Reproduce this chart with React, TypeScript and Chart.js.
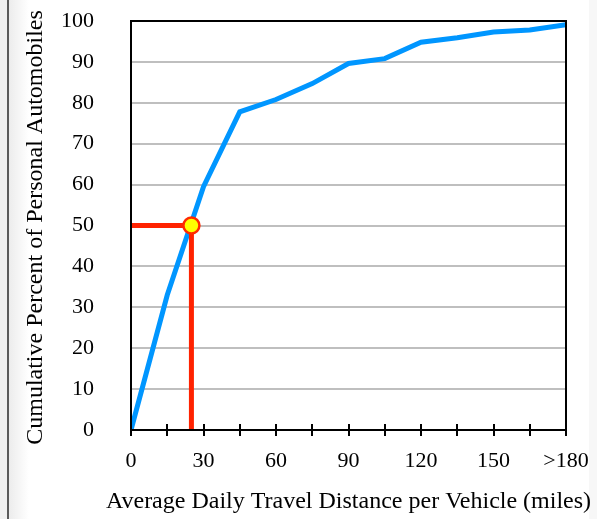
import React, { useEffect, useRef } from "react";
import { Chart, registerables } from "chart.js";

Chart.register(...registerables);

const distanceMiles = [0, 15, 30, 45, 60, 75, 90, 105, 120, 135, 150, 165, 180];
const cumulativePercent = [0, 33, 59.5, 77.8, 80.8, 84.7, 89.6, 90.8, 94.8, 95.9, 97.3, 97.8, 99.1];
const medianDistance = 25;
const medianPercent = 50;
const xTickLabels: Record<number, string> = { 0: "0", 30: "30", 60: "60", 90: "90", 120: "120", 150: "150", 180: ">180" };
const xTitle = "Average Daily Travel Distance per Vehicle (miles)";
const yTitle = "Cumulative Percent of Personal Automobiles";

const FONT = "'Liberation Serif', 'Times New Roman', serif";

const frameTicksTitles = {
  id: "frameTicksTitles",
  afterDatasetsDraw(chart: any) {
    const { ctx, chartArea, scales } = chart;
    ctx.save();
    ctx.strokeStyle = "#000";
    ctx.lineWidth = 2;
    ctx.strokeRect(chartArea.left, chartArea.top, chartArea.right - chartArea.left, chartArea.bottom - chartArea.top);
    const x = scales.x;
    for (let v = 0; v <= 180; v += 15) {
      const px = Math.round(x.getPixelForValue(v));
      ctx.beginPath();
      ctx.moveTo(px, chartArea.bottom - 6);
      ctx.lineTo(px, chartArea.bottom + 6);
      ctx.stroke();
    }
    ctx.restore();
  },
  afterDraw(chart: any) {
    const { ctx, chartArea } = chart;
    ctx.save();
    ctx.fillStyle = "#000";
    ctx.font = `24px ${FONT}`;
    ctx.textAlign = "center";
    ctx.textBaseline = "alphabetic";
    ctx.fillText(xTitle, (chartArea.left + chartArea.right) / 2, 508);
    ctx.translate(41.5, (chartArea.top + chartArea.bottom) / 2 + 2);
    ctx.rotate(-Math.PI / 2);
    ctx.fillText(yTitle, 0, 0);
    ctx.restore();
  },
};

export default function App() {
  const ref = useRef<HTMLCanvasElement | null>(null);
  useEffect(() => {
    if (!ref.current) return;
    const blue = distanceMiles.map((d, i) => ({ x: d, y: cumulativePercent[i] }));
    const redPath = [
      { x: 0, y: medianPercent },
      { x: medianDistance, y: medianPercent },
      { x: medianDistance, y: 0 },
    ];
    const chart = new Chart(ref.current, {
      type: "line",
      data: {
        datasets: [
          {
            label: "Median",
            data: [{ x: medianDistance, y: medianPercent }],
            showLine: false,
            pointRadius: 8,
            pointBackgroundColor: "#ffff00",
            pointBorderColor: "#ff2a00",
            pointBorderWidth: 2.5,
          },
          {
            label: "Median guide",
            data: redPath,
            borderColor: "#ff2200",
            borderWidth: 5,
            pointRadius: 0,
            tension: 0,
          },
          {
            label: "Cumulative",
            data: blue,
            borderColor: "#0096ff",
            borderWidth: 5,
            pointRadius: 0,
            tension: 0,
          },
        ],
      },
      options: {
        responsive: false,
        animation: false,
        layout: { padding: { left: 0, top: 21, right: 31, bottom: 0 } },
        plugins: { legend: { display: false }, tooltip: { enabled: false } },
        scales: {
          x: {
            type: "linear",
            min: 0,
            max: 180,
            afterFit: (s: any) => { s.height = 89; },
            ticks: {
              stepSize: 15,
              autoSkip: false,
              maxRotation: 0,
              padding: 2,
              color: "#000",
              font: { family: FONT, size: 22 },
              callback: (v: any) => (xTickLabels[v] !== undefined ? xTickLabels[v] : ""),
            },
            grid: { drawOnChartArea: false, drawTicks: true, tickLength: 16, tickColor: "rgba(0,0,0,0)", color: "rgba(0,0,0,0)" },
            border: { display: false },
          },
          y: {
            min: 0,
            max: 100,
            afterFit: (s: any) => { s.width = 131; },
            ticks: {
              stepSize: 10,
              padding: 2,
              color: "#000",
              font: { family: FONT, size: 22 },
            },
            grid: { color: "#bfbfbf", lineWidth: 2, drawTicks: true, tickLength: 35, tickColor: "rgba(0,0,0,0)" },
            border: { display: false },
          },
        },
      },
      plugins: [frameTicksTitles],
    } as any);
    return () => chart.destroy();
  }, []);

  return (
    <div style={{ position: "absolute", left: 0, top: 0, width: 597, height: 519, background: "#fff", overflow: "hidden" }}>
      <div style={{ position: "absolute", left: 0, top: 0, width: 7, height: 519, background: "#f0f0f0" }} />
      <div style={{ position: "absolute", left: 7, top: 0, width: 2, height: 519, background: "#5a5a5a" }} />
      <div style={{ position: "absolute", left: 9, top: 0, width: 20, height: 519, background: "linear-gradient(to right, #ececec, #ffffff)" }} />
      <div style={{ position: "absolute", left: 589, top: 0, width: 8, height: 519, background: "#f7f7f7" }} />
      <canvas ref={ref} width={597} height={519} style={{ position: "absolute", left: 0, top: 0, width: 597, height: 519 }} />
    </div>
  );
}
